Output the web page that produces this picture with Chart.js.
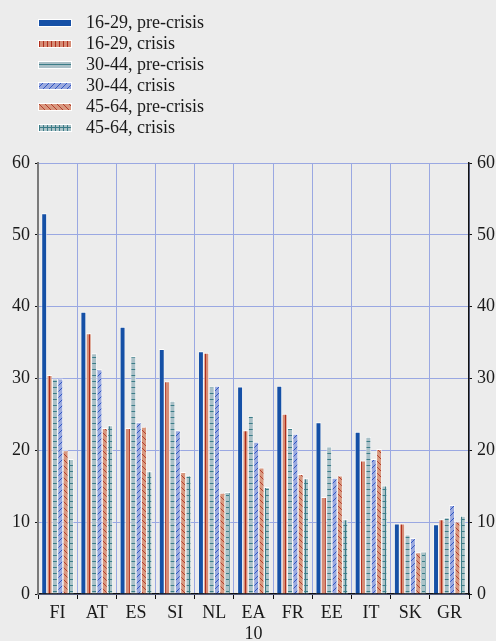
<!DOCTYPE html>
<html>
<head>
<meta charset="utf-8">
<script src="https://cdn.jsdelivr.net/npm/chart.js@4/dist/chart.umd.min.js"></script>
<style>
    html, body { margin: 0; padding: 0; background: #ececec; }
    #wrap { position: relative; width: 496px; height: 641px; }
    #legend { position: absolute; left: 38px; top: 12px; font-family: 'Liberation Serif', 'Times New Roman', serif; font-size: 18px; color: #1a1a1a; }
    .item { height: 21px; display: flex; align-items: center; }
    .item canvas { width: 34px; height: 8px; margin-right: 14px; }
</style>
</head>
<body>
<div id="wrap">
    <canvas id="graph" width="496" height="641"></canvas>
    <div id="legend"></div>
</div>
<script>
// countries (EA 10 wraps onto two lines)
const categories = ['FI', 'AT', 'ES', 'SI', 'NL', ['EA', '10'], 'FR', 'EE', 'IT', 'SK', 'GR']
const seriesNames = ['16-29, pre-crisis', '16-29, crisis', '30-44, pre-crisis', '30-44, crisis', '45-64, pre-crisis', '45-64, crisis']

// values
const youngPre = [53.0, 39.3, 37.2, 34.1, 33.8, 28.9, 29.0, 23.9, 22.6, 9.8, 9.7]
const youngCrisis = [30.5, 36.3, 23.1, 29.6, 33.6, 22.8, 25.1, 13.5, 18.6, 9.8, 10.4]
const midPre = [30.0, 33.5, 33.1, 26.9, 28.9, 24.8, 23.1, 20.5, 21.9, 8.3, 10.7]
const midCrisis = [30.0, 31.3, 23.9, 22.8, 29.0, 21.2, 22.3, 16.2, 18.8, 7.8, 12.4]
const oldPre = [20.0, 23.1, 23.3, 17.0, 14.1, 17.6, 16.7, 16.5, 20.2, 5.8, 10.1]
const oldCrisis = [18.8, 23.5, 17.1, 16.5, 14.2, 14.9, 16.1, 10.4, 15.1, 5.9, 10.9]
const yTicks = [0, 10, 20, 30, 40, 50, 60]

// small hatch patterns, one per series
function hatch(bg, fg, kind) {
    let w = (kind === 'vert' || kind === 'grid') ? 4 : 6
    let h = 6
    let c = document.createElement('canvas')
    c.width = w
    c.height = h
    let g = c.getContext('2d')
    g.fillStyle = bg
    g.fillRect(0, 0, w, h)
    g.fillStyle = fg
    if (kind === 'vert' || kind === 'grid') g.fillRect(1, 0, 1, h)
    if (kind === 'horiz' || kind === 'grid') g.fillRect(0, 3, w, 1)
    if (kind === 'up' || kind === 'down') {
        // one pixel per row makes a crisp diagonal
        for (let y = 0; y < h; y++) {
            let x = kind === 'up' ? h - 1 - y : y
            g.fillRect(x, y, 1, 1)
        }
    }
    return g.createPattern(c, 'repeat')
}

const fills = [
    ['#1550a6', null, null],
    ['#d68c75', '#b02e1c', 'vert'],
    ['#a9c0c7', '#3b7c87', 'horiz'],
    ['#9aa9df', '#3056c2', 'up'],
    ['#d8987f', '#b33e2c', 'down'],
    ['#abc3c8', '#3b7c87', 'grid']
]
const values = [youngPre, youngCrisis, midPre, midCrisis, oldPre, oldCrisis]

let datasets = values.map((v, i) => ({
    label: seriesNames[i],
    data: v,
    backgroundColor: fills[i][2] ? hatch(fills[i][0], fills[i][1], fills[i][2]) : fills[i][0],
    borderColor: 'rgba(255,255,255,0.9)',
    borderWidth: { top: 1, left: 0.7, right: 0.7, bottom: 0 },
    borderSkipped: 'bottom',
    categoryPercentage: 0.82,
    barPercentage: 1.0
}))

// html legend, one item per line like the original
let legend = document.getElementById('legend')
seriesNames.forEach((name, i) => {
    let row = document.createElement('div')
    row.className = 'item'
    let sw = document.createElement('canvas')
    sw.width = 34
    sw.height = 8
    let g = sw.getContext('2d')
    g.fillStyle = '#ffffff'
    g.fillRect(0, 0, 34, 8)
    g.fillStyle = fills[i][2] ? hatch(fills[i][0], fills[i][1], fills[i][2]) : fills[i][0]
    g.fillRect(1, 1, 32, 6)
    row.appendChild(sw)
    let t = document.createElement('span')
    t.textContent = name
    row.appendChild(t)
    legend.appendChild(row)
})

let tickFont = { family: "'Liberation Serif', 'Times New Roman', serif", size: 18 }

let ctx = document.getElementById('graph')
new Chart(ctx, {
    type: 'bar',
    data: { labels: categories, datasets: datasets },
    options: {
        responsive: false,
        animation: false,
        events: [],
        layout: { padding: { top: 163, left: 0, right: 0, bottom: 0 } },
        scales: {
            x: {
                grid: { color: '#9aa8e2', tickColor: '#111111', tickLength: 5, lineWidth: 1 },
                border: { display: true, color: '#111111', width: 1.5 },
                ticks: { font: tickFont, color: '#1a1a1a', padding: 3 },
                afterFit: s => { s.height = 47 }
            },
            y: {
                position: 'left',
                min: 0,
                max: 60,
                afterBuildTicks: s => { s.ticks = yTicks.map(v => ({ value: v })) },
                grid: { color: '#9aa8e2', tickLength: 3, tickColor: '#111111' },
                border: { display: true, color: '#7a7a7a', width: 2 },
                ticks: { font: tickFont, color: '#1a1a1a', padding: 5 },
                afterFit: s => { s.width = 38 }
            },
            y2: {
                position: 'right',
                min: 0,
                max: 60,
                afterBuildTicks: s => { s.ticks = yTicks.map(v => ({ value: v })) },
                grid: { drawOnChartArea: false, tickLength: 3, tickColor: '#111111' },
                border: { display: true, color: '#111111', width: 1.5 },
                ticks: { font: tickFont, color: '#1a1a1a', padding: 5 },
                afterFit: s => { s.width = 27 }
            }
        },
        plugins: {
            legend: { display: false },
            tooltip: { enabled: false }
        }
    }
})
</script>
</body>
</html>
